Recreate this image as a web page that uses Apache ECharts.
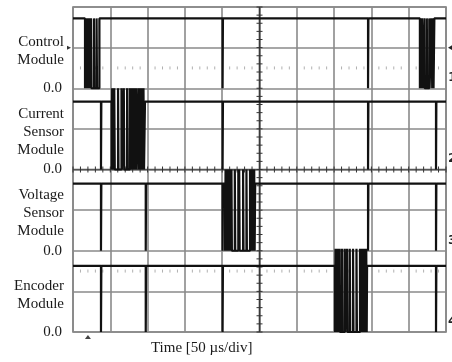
<!DOCTYPE html>
<html>
<head>
<meta charset="utf-8">
<script src="https://cdn.jsdelivr.net/npm/echarts@6/dist/echarts.min.js"></script>
<style>
  html, body { margin: 0; padding: 0; background: #fff; }
  #chart { width: 452px; height: 362px; }
</style>
</head>
<body>
<div id="chart"></div>
<script>
// Oscilloscope capture: four module lines, 50 µs per horizontal division
const timeMax = 500;          // µs across the screen
const timeDiv = 50;           // µs per division
const vertDivs = 8;           // vertical divisions

const channelNames = [
  ['Control', 'Module'],
  ['Current', 'Sensor', 'Module'],
  ['Voltage', 'Sensor', 'Module'],
  ['Encoder', 'Module']
];
const channelNumbers = ['1', '2', '3', '4'];

// logic levels, in divisions
const groundLevels = [6, 4, 2, 0];
const highLevels   = [7.72, 5.67, 3.65, 1.63];
const peakLevels   = [7.72, 6.0, 4.0, 2.05];

// communication bursts: alternating fall / rise times (µs), each burst ends on a rise
const controlBursts = [
  [16.1, 16.9, 17.7, 18.5, 19.3, 20.1, 20.9, 21.7, 22.1, 24.0, 24.6, 28.0, 28.6, 31.6, 32.2, 35.4],
  [465.0, 465.9, 466.8, 467.7, 468.6, 471.0, 471.4, 474.3, 474.7, 477.6, 478.0,
   480.6, 481.5, 482.4, 483.3, 484.4]
];
const currentBursts = [
  [51.8, 52.5, 53.2, 53.9, 54.6, 55.3, 56.0, 60.4, 61.0, 65.0, 65.6, 68.1, 68.7, 72.5, 73.1,
   76.1, 76.7, 78.7, 79.4, 80.1, 80.8, 81.5, 82.2, 82.9, 83.6, 84.3, 85.0, 87.5, 88.2, 88.9,
   89.6, 90.3, 91.0, 91.7, 92.4, 93.1, 93.8, 94.5, 95.2, 96.5]
];
const voltageBursts = [
  [203.8, 204.5, 205.2, 205.9, 206.6, 207.3, 208.0, 208.7, 209.4, 210.1, 210.6, 212.4, 213.0,
   216.9, 217.5, 221.6, 222.2, 222.8, 223.4, 228.0, 228.6, 232.5, 233.1, 237.3, 238.0, 238.7,
   239.4, 240.1, 240.8, 241.5, 242.2, 242.9, 243.5, 244.2]
];
const encoderBursts = [
  [351.2, 351.9, 352.6, 353.3, 354.0, 354.7, 355.4, 356.1, 356.8, 357.5, 358.0, 360.7, 361.3,
   364.3, 364.9, 367.4, 368.0, 371.0, 371.6, 375.4, 376.0, 380.0, 380.6, 384.7, 385.4, 386.1,
   386.8, 387.5, 388.2, 388.9, 389.6, 390.3, 391.0, 391.7, 392.4, 393.1, 393.7, 394.2]
];
const allBursts = [controlBursts, currentBursts, voltageBursts, encoderBursts];

// short coupling glitches (µs) seen on the idle lines
const controlGlitches = [200.5, 395.5];
const currentGlitches = [37.5, 200.5, 395.5, 486.6];
const voltageGlitches = [37.5, 97.5, 200.5, 395.5, 486.6];
const encoderGlitches = [37.5, 97.5, 200.5, 486.6];
const allGlitches = [controlGlitches, currentGlitches, voltageGlitches, encoderGlitches];
const glitchWidth = 0.5;

function buildTrace(ch) {
  const events = [];
  allBursts[ch].forEach(b => {
    b.forEach((t, i) => {
      const kind = i % 2 === 0 ? 'L' : (i === b.length - 1 ? 'H' : 'P');
      events.push({ t, kind });
    });
  });
  allGlitches[ch].forEach(t => {
    events.push({ t, kind: 'L' });
    events.push({ t: t + glitchWidth, kind: 'H' });
  });
  events.sort((a, b) => a.t - b.t);
  const lv = { L: groundLevels[ch], H: highLevels[ch], P: peakLevels[ch] };
  let cur = highLevels[ch];
  const pts = [[0, cur]];
  events.forEach(e => {
    const v = lv[e.kind];
    pts.push([e.t, cur]);
    pts.push([e.t, v]);
    cur = v;
  });
  pts.push([timeMax, cur]);
  return pts;
}

// graticule: minor ticks on the centre cross and dotted 0%/100% rows
function graticule(params, api) {
  const children = [];
  const tc = timeMax / 2, vc = vertDivs / 2;
  const top = api.coord([tc, vertDivs]), bot = api.coord([tc, 0]);
  children.push({ type: 'line', shape: { x1: top[0], y1: top[1], x2: bot[0], y2: bot[1] },
    style: { stroke: '#3a3a3a', lineWidth: 1.6 } });
  const l = api.coord([0, vc]), r = api.coord([timeMax, vc]);
  children.push({ type: 'line', shape: { x1: l[0], y1: l[1], x2: r[0], y2: r[1] },
    style: { stroke: '#555', lineWidth: 1.6 } });
  for (let k = 0; k <= timeMax / 10; k++) {
    const t = k * 10;
    const p = api.coord([t, vc]);
    children.push({ type: 'line', shape: { x1: p[0], y1: p[1] - 3, x2: p[0], y2: p[1] + 3 },
      style: { stroke: '#333', lineWidth: 1 } });
    if (t % timeDiv !== 0) {
      [vc + 2.5, vc - 2.5].forEach(v => {
        const q = api.coord([t, v]);
        children.push({ type: 'line', shape: { x1: q[0], y1: q[1] - 1.5, x2: q[0], y2: q[1] + 1.5 },
          style: { stroke: '#b0b0b0', lineWidth: 1 } });
      });
    }
  }
  for (let k = 0; k <= vertDivs * 5; k++) {
    const p = api.coord([tc, k * 0.2]);
    children.push({ type: 'line', shape: { x1: p[0] - 3, y1: p[1], x2: p[0] + 3, y2: p[1] },
      style: { stroke: '#333', lineWidth: 1 } });
  }
  return { type: 'group', children };
}

const chart = echarts.init(document.getElementById('chart'), null, { renderer: 'canvas' });
const serif = 'Liberation Serif, Times New Roman, serif';

const traceSeries = [0, 1, 2, 3].map(ch => ({
  type: 'line',
  data: buildTrace(ch),
  symbol: 'none',
  lineStyle: { color: '#111', width: 2.2 },
  z: 5,
  silent: true
}));

chart.setOption({
  animation: false,
  backgroundColor: '#fff',
  grid: { left: 73, top: 7, right: 6, bottom: 30, show: true, borderColor: '#7a7a7a', borderWidth: 1.6 },
  xAxis: {
    type: 'value', min: 0, max: timeMax, interval: timeDiv,
    axisLine: { show: false }, axisTick: { show: false }, axisLabel: { show: false },
    splitLine: { show: true, lineStyle: { color: '#8a8a8a', width: 1.6 } }
  },
  yAxis: {
    type: 'value', min: 0, max: vertDivs, interval: 1,
    axisLine: { show: false }, axisTick: { show: false },
    axisLabel: {
      margin: 11, color: '#1a1a1a', fontFamily: serif, fontSize: 15,
      formatter: v => (groundLevels.indexOf(v) >= 0 ? '0.0' : '')
    },
    splitLine: { show: true, lineStyle: { color: '#8a8a8a', width: 1.6 } }
  },
  series: [
    { type: 'custom', renderItem: graticule, data: [[0, 0]], z: 2, silent: true, clip: false }
  ].concat(traceSeries)
});

// labels placed through the axis scale
const px = (t, v) => chart.convertToPixel({ gridIndex: 0 }, [t, v]);
const graphics = [];
channelNames.forEach((lines, ch) => {
  const p = px(0, groundLevels[ch] + 0.92);
  graphics.push({
    type: 'text', x: 64, y: p[1],
    style: { text: lines.join('\n'), fill: '#1a1a1a', font: '15px ' + serif,
      align: 'right', verticalAlign: 'middle', lineHeight: 18 }
  });
  const q = px(timeMax, groundLevels[ch] + 0.26);
  graphics.push({
    type: 'text', x: q[0] + 2, y: q[1],
    style: { text: channelNumbers[ch], fill: '#222', font: 'bold 13px DejaVu Sans, sans-serif',
      align: 'left', verticalAlign: 'middle' }
  });
});
// trigger level marks
const trigL = px(0, 7.0);
graphics.push({ type: 'polygon', shape: { points: [[trigL[0] - 6, trigL[1] - 2], [trigL[0] - 2, trigL[1]], [trigL[0] - 6, trigL[1] + 2]] },
  style: { fill: '#333' } });
const trigR = px(timeMax, 7.0);
graphics.push({ type: 'polygon', shape: { points: [[trigR[0] + 2, trigR[1]], [trigR[0] + 7, trigR[1] - 3], [trigR[0] + 7, trigR[1] + 3]] },
  style: { fill: '#222' } });
// trigger position mark under the time axis
const trigT = px(20, 0);
graphics.push({ type: 'polygon', shape: { points: [[trigT[0] - 3, trigT[1] + 7], [trigT[0], trigT[1] + 3], [trigT[0] + 3, trigT[1] + 7]] },
  style: { fill: '#444' } });
// horizontal scale caption
const cap = px(timeMax * 0.345, 0);
graphics.push({
  type: 'text', x: cap[0], y: cap[1] + 16,
  style: { text: 'Time [50 µs/div]', fill: '#1a1a1a', font: '15px ' + serif, align: 'center', verticalAlign: 'middle' }
});
chart.setOption({ graphic: graphics });
</script>
</body>
</html>
